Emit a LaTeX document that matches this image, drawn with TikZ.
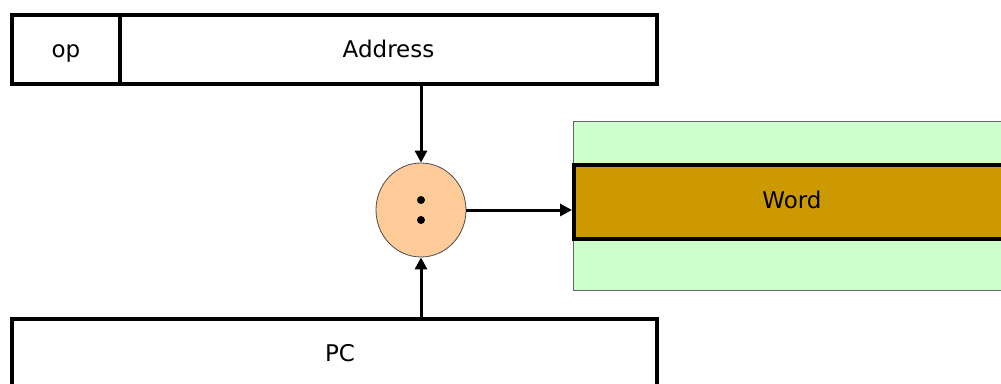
\documentclass[tikz,border=0pt]{standalone}
\usepackage{fontspec}
\setmainfont{DejaVu Sans}
\usetikzlibrary{arrows.meta,shapes.geometric}
\definecolor{peach}{HTML}{FFCC99}
\definecolor{palegreen}{HTML}{CCFFCC}
\definecolor{gold}{HTML}{CC9900}
\tikzset{
  lbl/.style={font=\fontsize{23}{26}\selectfont, text height=20pt, text depth=3.2pt},
  regbox/.style={draw=black, line width=4pt, fill=white, inner sep=0pt, lbl},
  conn/.style={line width=3pt, -{Triangle[length=12pt,width=12pt]}},
}
\begin{document}
\begin{tikzpicture}[x=1pt,y=-1pt]
\useasboundingbox (0,0) rectangle (1001,383);
\clip (0,0) rectangle (1001,383);
% green background
\node[draw=black!60, line width=0.8pt, fill=palegreen, minimum width=460pt, minimum height=169pt, anchor=north west, inner sep=0pt] (bg) at (573,121) {};
% word
\node[regbox, fill=gold, minimum width=460pt, minimum height=74pt, anchor=north west] (word) at (572,163) {};
\node[lbl] (wordlbl) at (792,200) {Word};
% instruction
\node[regbox, minimum width=108pt, minimum height=69pt, anchor=north west] (op) at (10,13) {op};
\node[regbox, minimum width=537pt, minimum height=69pt, anchor=north west] (addr) at (118,13) {Address};
% PC
\node[regbox, minimum width=645pt, minimum height=90pt, anchor=north west] (pcbox) at (10,317) {};
\node[lbl] (pclbl) at (340,353) {PC};
% concatenation
\node[ellipse, draw=black!70, line width=0.8pt, fill=peach, minimum width=90pt, minimum height=94pt, inner sep=0pt] (cat) at (421,210) {};
\fill (421,200) circle (4pt) (421,220) circle (4pt);
\coordinate (atop) at (421,82);
\coordinate (pctop) at (421,317);
\draw[conn] (atop) -- (cat.north);
\draw[conn] (pctop) -- (cat.south);
\draw[conn] (cat.east) -- (cat.east -| word.west);
\end{tikzpicture}
\end{document}
